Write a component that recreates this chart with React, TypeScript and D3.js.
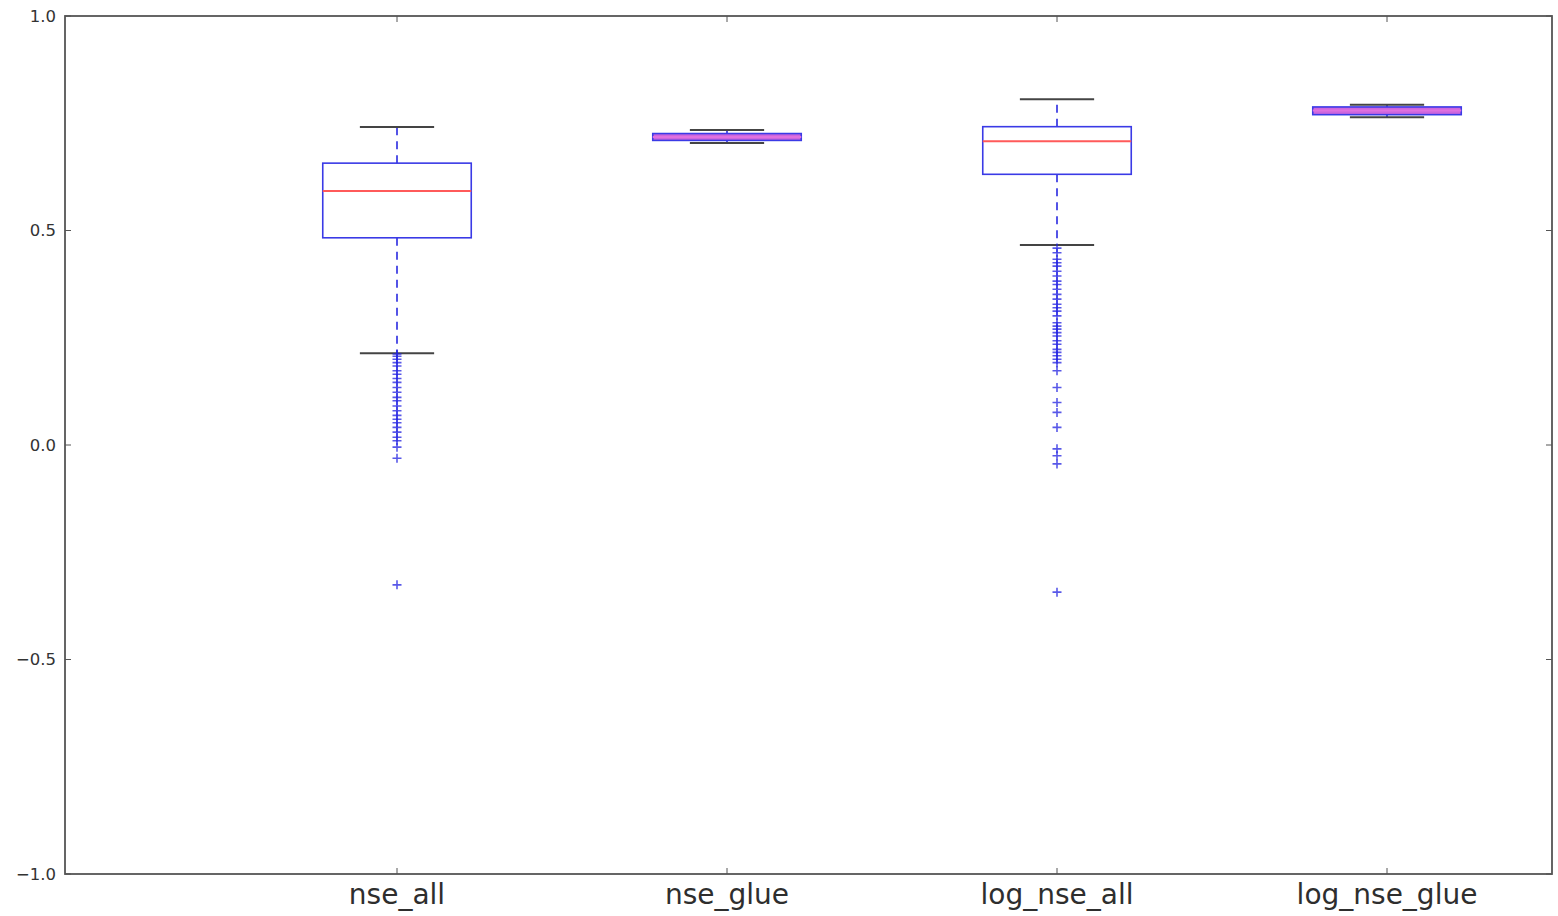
import React, { useEffect, useRef } from 'react';
import * as d3 from 'd3';

// box stats
const categories = ['nse_all', 'nse_glue', 'log_nse_all', 'log_nse_glue'];
const whiskerLow = [0.214, 0.704, 0.466, 0.764];
const q1 = [0.483, 0.710, 0.631, 0.770];
const median = [0.592, 0.718, 0.708, 0.780];
const q3 = [0.657, 0.726, 0.742, 0.788];
const whiskerHigh = [0.741, 0.734, 0.806, 0.793];

const outliersNseAll = [
  0.212, 0.207, 0.2, 0.192, 0.184, 0.173, 0.165, 0.155, 0.146, 0.134, 0.123, 0.111,
  0.103, 0.091, 0.08, 0.069, 0.06, 0.052, 0.041, 0.03, 0.018, 0.01, -0.005, -0.031, -0.326,
];
const outliersLogNseAll = [
  0.459, 0.448, 0.433, 0.425, 0.417, 0.405, 0.394, 0.382, 0.374, 0.363, 0.351, 0.34,
  0.328, 0.32, 0.312, 0.301, 0.285, 0.277, 0.27, 0.262, 0.254, 0.243, 0.235, 0.223,
  0.216, 0.208, 0.2, 0.192, 0.173, 0.134, 0.099, 0.076, 0.041, -0.009, -0.025, -0.044, -0.343,
];
const outliers = [outliersNseAll, [], outliersLogNseAll, []];

const yTicks = [-1.0, -0.5, 0.0, 0.5, 1.0];

const BoxChart = () => {
  const svgRef = useRef<SVGSVGElement>(null);

  useEffect(() => {
    const svg = d3.select(svgRef.current);
    svg.selectAll('*').remove();

    const left = 65, right = 1552, top = 16, bottom = 874;
    const axisColor = '#555';

    const x = d3.scaleLinear().domain([0, 4.5]).range([left + 2, right]);
    const y = d3.scaleLinear().domain([-1, 1]).range([bottom, top]);

    const boxW = 0.45;
    const capW = boxW / 2;

    const g = svg.append('g');

    categories.forEach((name, i) => {
      const pos = i + 1;
      const cx = x(pos);

      // whiskers
      [[q3[i], whiskerHigh[i]], [q1[i], whiskerLow[i]]].forEach(([a, b]) => {
        g.append('line')
          .attr('x1', cx).attr('x2', cx)
          .attr('y1', y(a)).attr('y2', y(b))
          .attr('stroke', '#2a2ae0').attr('stroke-width', 1.6)
          .attr('stroke-dasharray', '8,6');
      });

      // caps
      [whiskerLow[i], whiskerHigh[i]].forEach(v => {
        g.append('line')
          .attr('x1', x(pos - capW / 2)).attr('x2', x(pos + capW / 2))
          .attr('y1', y(v)).attr('y2', y(v))
          .attr('stroke', '#444').attr('stroke-width', 2);
      });

      // box
      const thin = y(q1[i]) - y(q3[i]) < 12;
      g.append('rect')
        .attr('x', x(pos - boxW / 2))
        .attr('y', y(q3[i]))
        .attr('width', x(pos + boxW / 2) - x(pos - boxW / 2))
        .attr('height', y(q1[i]) - y(q3[i]))
        .attr('fill', thin ? '#cc66dd' : 'none')
        .attr('stroke', '#3a3ae6')
        .attr('stroke-width', 1.6);

      // median
      g.append('line')
        .attr('x1', x(pos - boxW / 2)).attr('x2', x(pos + boxW / 2))
        .attr('y1', y(median[i])).attr('y2', y(median[i]))
        .attr('stroke', thin ? '#e070e0' : '#ff5a5a').attr('stroke-width', 2);

      // fliers
      const s = 4.5;
      g.selectAll(null)
        .data(outliers[i])
        .join('path')
        .attr('d', d => `M${cx - s},${y(d)}H${cx + s}M${cx},${y(d) - s}V${y(d) + s}`)
        .attr('stroke', '#2020e0')
        .attr('stroke-opacity', 0.75)
        .attr('stroke-width', 1.6)
        .attr('fill', 'none');
    });

    // frame
    svg.append('rect')
      .attr('x', left).attr('y', top)
      .attr('width', right - left).attr('height', bottom - top)
      .attr('fill', 'none').attr('stroke', axisColor).attr('stroke-width', 1.8);

    // y ticks
    yTicks.forEach(t => {
      svg.append('line')
        .attr('x1', left).attr('x2', left + 6)
        .attr('y1', y(t)).attr('y2', y(t))
        .attr('stroke', axisColor);
      svg.append('line')
        .attr('x1', right).attr('x2', right - 6)
        .attr('y1', y(t)).attr('y2', y(t))
        .attr('stroke', axisColor);
      svg.append('text')
        .attr('x', left - 9)
        .attr('y', y(t))
        .attr('dy', '0.35em')
        .attr('text-anchor', 'end')
        .attr('font-family', 'DejaVu Sans')
        .attr('font-size', 16.5)
        .attr('fill', '#333')
        .text(d3.format('.1f')(t).replace('-', '\u2212'));
    });

    // x ticks
    categories.forEach((name, i) => {
      const cx = x(i + 1);
      svg.append('line')
        .attr('x1', cx).attr('x2', cx)
        .attr('y1', bottom).attr('y2', bottom - 6)
        .attr('stroke', axisColor);
      svg.append('line')
        .attr('x1', cx).attr('x2', cx)
        .attr('y1', top).attr('y2', top + 6)
        .attr('stroke', axisColor);
      svg.append('text')
        .attr('x', cx)
        .attr('y', 904)
        .attr('text-anchor', 'middle')
        .attr('font-family', 'DejaVu Sans')
        .attr('font-size', 28)
        .attr('fill', '#2e2e2e')
        .text(name);
    });
  }, []);

  return (
    <svg
      ref={svgRef}
      width={1558}
      height={916}
      style={{ position: 'absolute', left: 0, top: 0, background: '#fff' }}
    ></svg>
  );
};

export default function App() {
  return <BoxChart />;
}
